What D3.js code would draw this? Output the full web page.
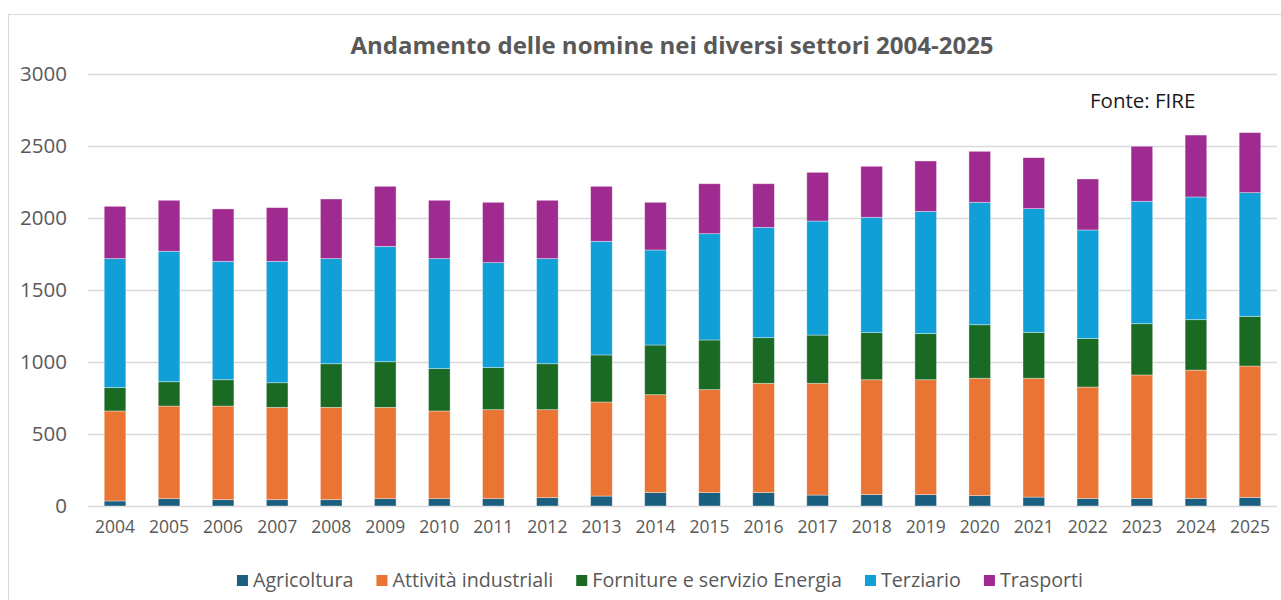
<!DOCTYPE html>
<html><head><meta charset="utf-8">
<script src="https://cdn.jsdelivr.net/npm/d3@7"></script>
<style>body{margin:0;background:#fff;} svg{display:block;font-family:"Open Sans", "Noto Sans", sans-serif;}</style>
</head><body>
<svg id="c" width="1281" height="600"></svg>
<script>
const years = ["2004","2005","2006","2007","2008","2009","2010","2011","2012","2013","2014","2015","2016","2017","2018","2019","2020","2021","2022","2023","2024","2025"];
const seriesNames = ["Agricoltura","Attività industriali","Forniture e servizio Energia","Terziario","Trasporti"];
const agricoltura = [35,51,44,44,44,51,51,51,58,69,93,93,93,76,79,79,72,62,53,53,53,60];
const industriali = [625,643,650,641,641,634,609,618,611,653,680,715,759,776,798,798,815,825,773,857,891,912];
const energia = [162,169,183,171,303,317,294,292,319,327,345,345,317,335,327,320,372,319,338,356,350,345];
const terziario = [896,906,822,843,730,801,764,729,730,789,660,738,766,792,801,849,850,859,753,850,852,859];
const trasporti = [363,354,364,373,414,417,405,419,405,382,331,347,303,338,354,350,354,354,354,382,430,417];
const yTicks = [0,500,1000,1500,2000,2500,3000];
const colors = ["#1a5e80","#e97434","#1b6a24","#119fd7","#a02b90"];
const title = "Andamento delle nomine nei diversi settori 2004-2025";
const sourceLabel = "Fonte: FIRE";

const svg = d3.select("#c");
const seriesVals = [agricoltura, industriali, energia, terziario, trasporti];
const rows = years.map((y,i)=>{const o={year:y}; seriesNames.forEach((s,k)=>o[s]=seriesVals[k][i]); return o;});
const stack = d3.stack().keys(seriesNames)(rows);

const x = d3.scaleBand().domain(years).range([88,1277]).paddingInner(0.6).paddingOuter(0.3);
const y = d3.scaleLinear().domain([0,3000]).range([506,74]);

svg.append("rect").attr("x",8.5).attr("y",14.5).attr("width",1300).attr("height",620)
  .attr("fill","#fff").attr("stroke","#d9d9d9");

// grid
const g = svg.append("g");
g.selectAll("line.grid").data(yTicks).join("line")
  .attr("x1",88).attr("x2",1277).attr("y1",d=>Math.round(y(d))+0.5).attr("y2",d=>Math.round(y(d))+0.5)
  .attr("stroke","#d9d9d9").attr("stroke-width",1.3);

g.selectAll("text.yt").data(yTicks).join("text")
  .attr("x",67).attr("y",d=>y(d)).attr("dy","0.36em").attr("text-anchor","end")
  .attr("font-size",20.5).attr("fill","#595959").text(d=>d);

// bars
stack.forEach((s,k)=>{
  svg.append("g").attr("fill",colors[k]).selectAll("rect").data(s).join("rect")
    .attr("x",d=>x(d.data.year)).attr("width",x.bandwidth())
    .attr("y",d=>y(d[1])).attr("height",d=>y(d[0])-y(d[1]))
    .attr("stroke","rgba(255,255,255,0.45)").attr("stroke-width",0.8);
});

// x labels
svg.append("g").selectAll("text").data(years).join("text")
  .attr("x",d=>x(d)+x.bandwidth()/2).attr("y",527).attr("dy","0.36em").attr("text-anchor","middle")
  .attr("font-size",17.5).attr("fill","#595959").text(d=>d);

// title
svg.append("text").attr("x",672).attr("y",45).attr("dy","0.36em").attr("text-anchor","middle")
  .attr("font-size",24).attr("font-weight","bold").attr("fill","#595959").text(title);

svg.append("text").attr("x",1090).attr("y",101).attr("dy","0.36em")
  .attr("font-size",20.5).attr("fill","#1a1a1a").text(sourceLabel);

// legend
const lg = svg.append("g");
const items = seriesNames.map((n,i)=>{
  const it = lg.append("g");
  it.append("rect").attr("width",11).attr("height",11).attr("y",-5).attr("fill",colors[i]);
  const t = it.append("text").attr("x",16).attr("dy","0.36em").attr("font-size",19.7).attr("fill","#595959").text(n);
  return {it, w:16+t.node().getComputedTextLength()};
});
const gap = 23;
const total = d3.sum(items,d=>d.w)+gap*(items.length-1);
let cx = 660 - total/2;
items.forEach(d=>{d.it.attr("transform",`translate(${cx},580)`); cx += d.w+gap;});
</script>
</body></html>
